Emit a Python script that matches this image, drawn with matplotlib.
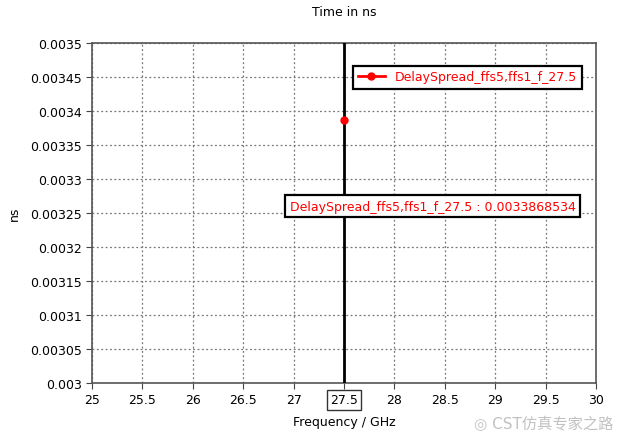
import matplotlib.pyplot as plt

freq = [27.5]
delay = [0.0033868534]
series_name = 'DelaySpread_ffs5,ffs1_f_27.5'
marker_freq = 27.5

x_ticks = [25, 25.5, 26, 26.5, 27, 27.5, 28, 28.5, 29, 29.5, 30]
y_ticks = [0.003, 0.00305, 0.0031, 0.00315, 0.0032, 0.00325, 0.0033,
           0.00335, 0.0034, 0.00345, 0.0035]
y_labels = ['0.003', '0.00305', '0.0031', '0.00315', '0.0032', '0.00325',
            '0.0033', '0.00335', '0.0034', '0.00345', '0.0035']

plt.rcParams['font.family'] = ['DejaVu Sans', 'Noto Sans CJK SC']

fig = plt.figure(figsize=(6.24, 4.35), dpi=100)
ax = fig.add_axes([92/624, 1 - 384/435, 504/624, 340/435])

ax.plot(freq, delay, '-', color='red', marker='o', markersize=5, lw=2,
        label=series_name, zorder=5)
ax.axvline(marker_freq, color='black', lw=2, zorder=4)

ax.set_xlim(25, 30)
ax.set_ylim(0.003, 0.0035)
ax.set_xticks(x_ticks)
ax.set_xticklabels([f'{t:g}' for t in x_ticks])
ax.set_yticks(y_ticks)
ax.set_yticklabels(y_labels)
ax.tick_params(labelsize=9, length=4, color='#444444', direction='out')
ax.grid(True, linestyle=(0, (1.5, 2)), color='#777777', lw=0.9)
for s in ax.spines.values():
    s.set_color('#555555')
    s.set_linewidth(1.2)

# boxed 27.5 tick label
for lbl in ax.get_xticklabels():
    if lbl.get_text() == '27.5':
        lbl.set_bbox(dict(boxstyle='square,pad=0.25', fc='white', ec='#333333', lw=1))

ax.set_title('Time in ns', fontsize=9, pad=20)
ax.set_xlabel('Frequency / GHz', fontsize=9, labelpad=6)
ax.set_ylabel('ns', fontsize=9, labelpad=6)

leg = ax.legend(loc='center', bbox_to_anchor=(0.745, 0.9), fontsize=9,
                frameon=True, fancybox=False, handlelength=2.2,
                borderpad=0.4, labelcolor='red')
leg.get_frame().set_edgecolor('black')
leg.get_frame().set_linewidth(1.6)
leg.get_frame().set_alpha(1)

ax.text(0.676, 0.52, f'{series_name} : {delay[0]:.10f}', transform=ax.transAxes,
        ha='center', va='center', color='red', fontsize=9, zorder=6,
        bbox=dict(boxstyle='square,pad=0.35', fc='white', ec='black', lw=1.6))

# watermark (kept just below the tick labels)
fig.text(0.76, 0.025, '◎ CST仿真专家之路', fontsize=11, color='#999999',
         alpha=0.6, ha='left', va='center')

fig.savefig('out.png', dpi=100)
